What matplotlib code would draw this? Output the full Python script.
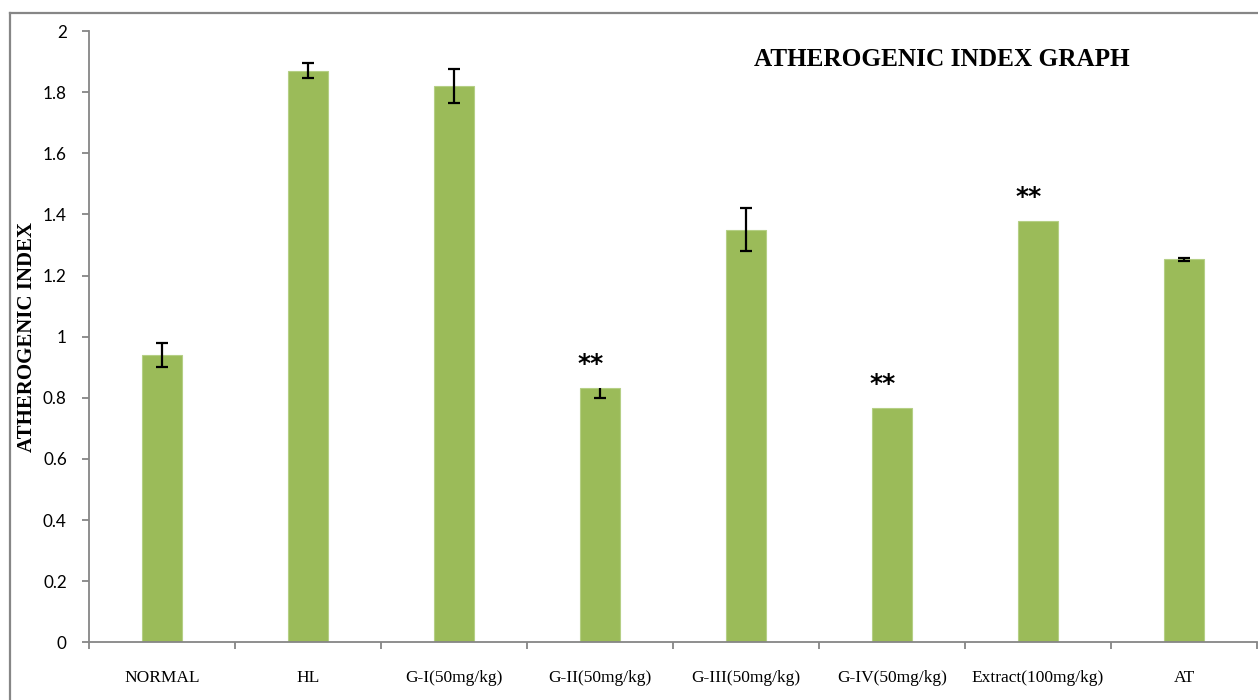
import numpy as np
import matplotlib
matplotlib.use("Agg")
import matplotlib.pyplot as plt
from matplotlib.lines import Line2D

groups = ["NORMAL", "HL", "G-I(50mg/kg)", "G-II(50mg/kg)", "G-III(50mg/kg)",
          "G-IV(50mg/kg)", "Extract(100mg/kg)", "AT"]
means = [0.94, 1.87, 1.82, 0.833, 1.35, 0.767, 1.38, 1.253]
err_low = [0.040, 0.024, 0.055, 0.035, 0.070, 0.0, 0.0, 0.005]
err_high = [0.040, 0.024, 0.055, 0.0, 0.070, 0.0, 0.0, 0.005]
signif = ["", "", "", "**", "", "**", "**", ""]
yticks = [0, 0.2, 0.4, 0.6, 0.8, 1, 1.2, 1.4, 1.6, 1.8, 2]

W, H = 1258, 700
fig = plt.figure(figsize=(W / 100, H / 100), dpi=100)
fig.patch.set_facecolor("white")

ax = fig.add_axes([89 / W, 1 - 642.3 / H, (1257 - 89) / W, (642.3 - 31) / H])

x = np.arange(len(groups))
ax.bar(x, means, width=0.274, color="#9BBB59", edgecolor="#B5CF85",
       linewidth=0.8, zorder=2)

# error bars: stem plus a cap only on the ends that carry a spread
cap_size = 9
for xi, m, lo, hi in zip(x, means, err_low, err_high):
    if lo == 0 and hi == 0:
        continue
    ax.vlines(xi, m - lo, m + hi, colors="black", linewidth=1.6, zorder=3)
    ends = [m - lo] if lo > 0 else []
    if hi > 0:
        ends.append(m + hi)
    ax.plot([xi] * len(ends), ends, linestyle="none", marker="_",
            markersize=cap_size, markeredgewidth=1.6, color="black", zorder=3)

for i, s in enumerate(signif):
    if s:
        ax.annotate(s, (x[i], means[i]), xytext=(-7, 17),
                    textcoords="offset points", ha="center", va="center",
                    fontsize=18, fontweight="bold", family="DejaVu Sans",
                    color="black")

ax.set_xlim(-0.5, len(groups) - 0.5)
ax.set_ylim(0, 2)
ax.set_yticks(yticks)
ax.set_yticklabels([f"{v:g}" for v in yticks], fontsize=12.3, family="Lato")
ax.set_xticks(x)
ax.set_xticklabels(groups, fontsize=12.5, family="Liberation Serif")
ax.set_xticks(np.arange(-0.5, len(groups)), minor=True)

gray = "#868686"
for side in ("top", "right"):
    ax.spines[side].set_visible(False)
for side in ("left", "bottom"):
    ax.spines[side].set_color(gray)
    ax.spines[side].set_linewidth(1.3)

ax.tick_params(axis="y", direction="out", length=5, width=1.3, color=gray,
               pad=11, labelcolor="black")
ax.tick_params(axis="x", which="major", length=0, pad=20, labelcolor="black")
ax.tick_params(axis="x", which="minor", direction="out", length=5, width=1.3,
               color=gray)

fig.text(942 / W, 1 - 60 / H, "ATHEROGENIC INDEX GRAPH", ha="center",
         va="center", fontsize=18.2, fontweight="bold", family="Liberation Serif")
fig.text(27 / W, 1 - 337 / H, "ATHEROGENIC INDEX", rotation=90, ha="center",
         va="center", fontsize=15, fontweight="bold", family="Liberation Serif")

# chart frame
fig.add_artist(Line2D([9.5 / W, 9.5 / W], [0, 1 - 13 / H], color=gray,
                      linewidth=1.6, transform=fig.transFigure))
fig.add_artist(Line2D([9.5 / W, 1], [1 - 13 / H, 1 - 13 / H], color=gray,
                      linewidth=1.6, transform=fig.transFigure))

fig.savefig("out.png", dpi=100)
